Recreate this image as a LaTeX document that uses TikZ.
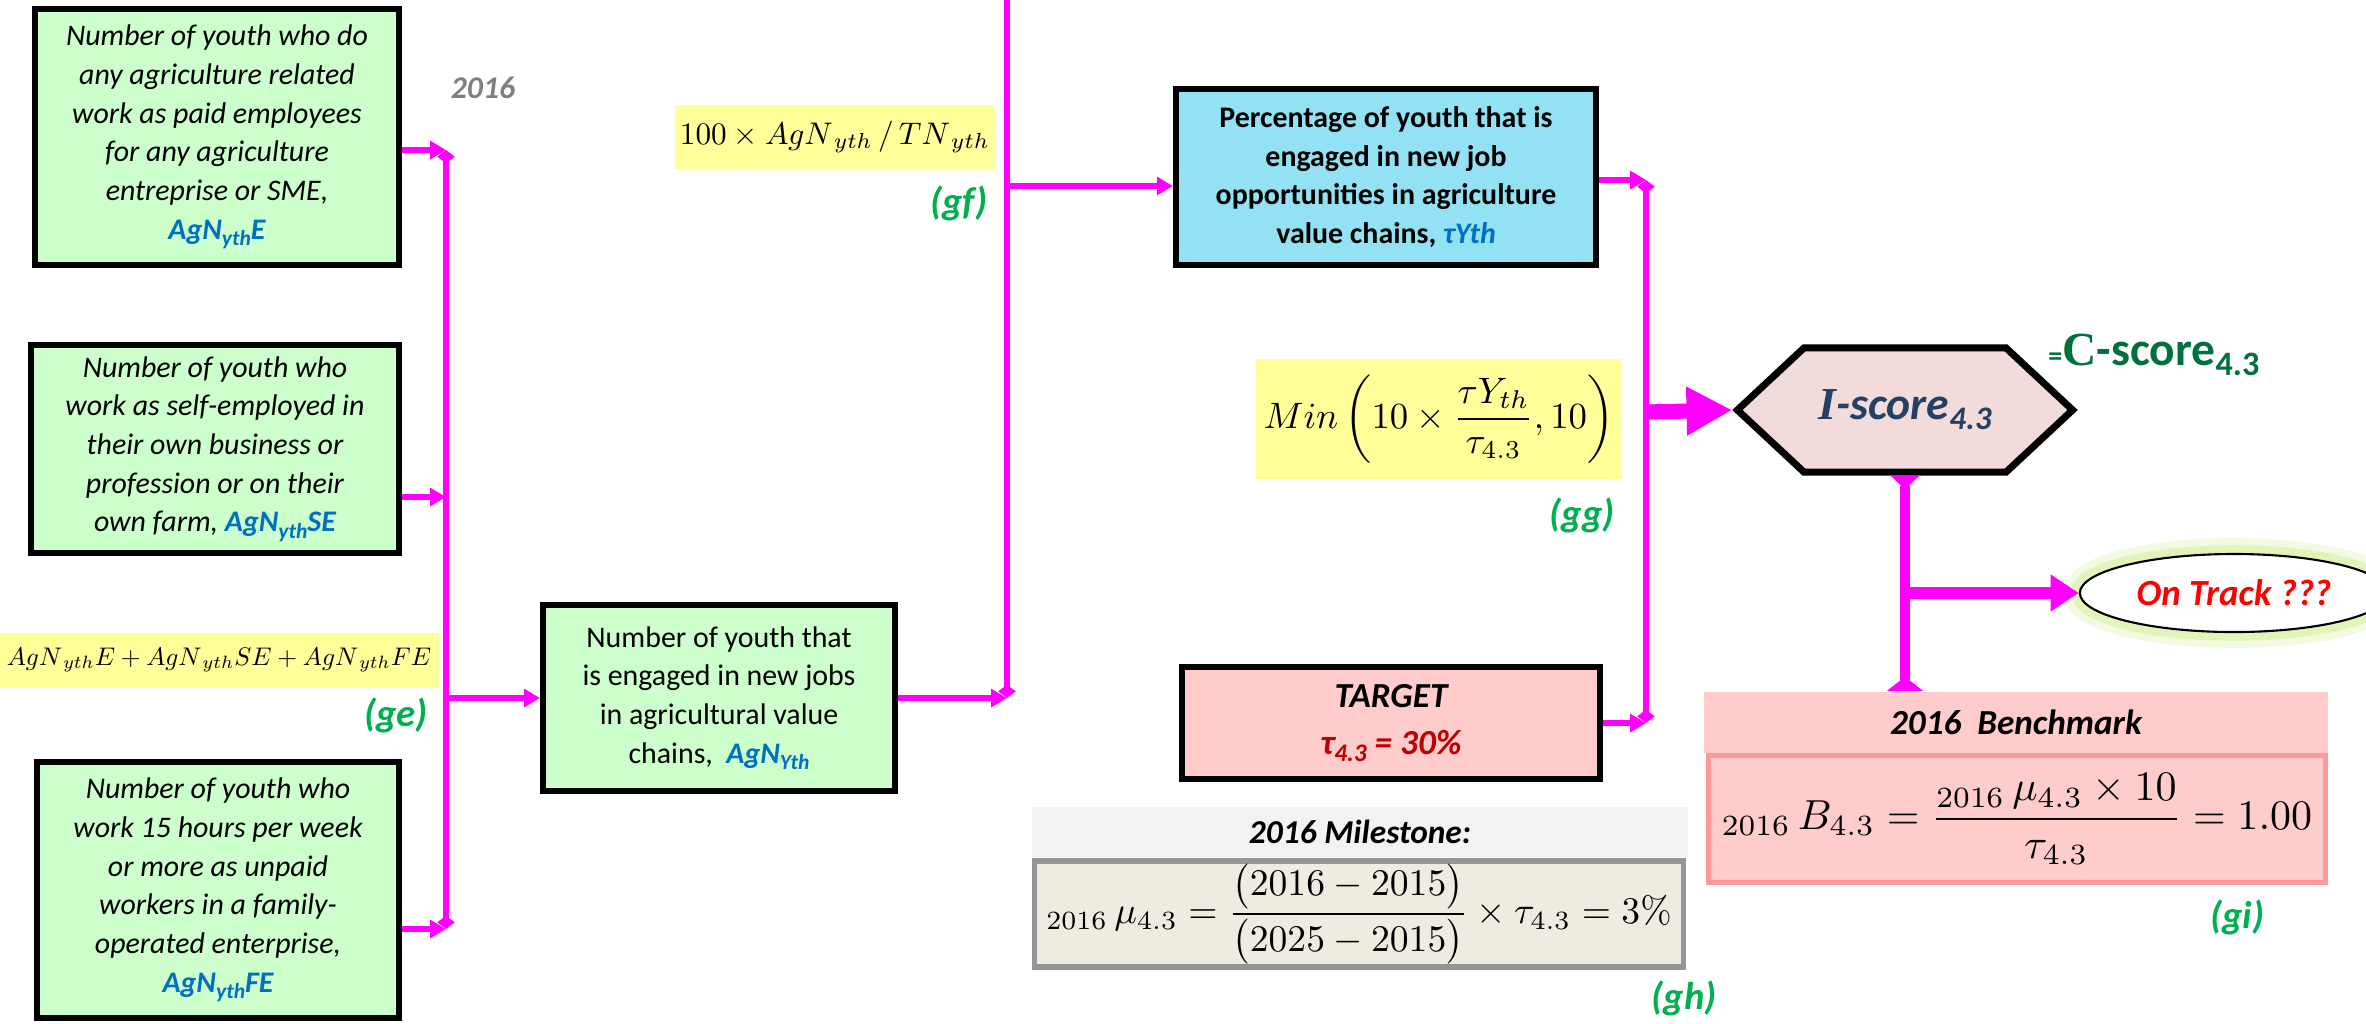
\documentclass[tikz,border=0pt]{standalone}
\usepackage{amsmath}
\usepackage{graphicx}
\usepackage[no-math]{fontspec}
\setmainfont{Carlito}
\newfontfamily\timesfont{Liberation Serif}
\usetikzlibrary{arrows.meta,shapes.geometric,shapes.symbols}

\definecolor{boxgreen}{RGB}{204,255,204}
\definecolor{boxcyan}{RGB}{146,226,243}
\definecolor{formyellow}{RGB}{255,255,153}
\definecolor{linkpink}{RGB}{255,0,255}
\definecolor{varblue}{RGB}{0,112,192}
\definecolor{taggreen}{RGB}{0,176,80}
\definecolor{hexfill}{RGB}{242,220,219}
\definecolor{hextext}{RGB}{36,64,98}
\definecolor{cgreen}{RGB}{0,112,60}
\definecolor{targetfill}{RGB}{255,204,204}
\definecolor{targetred}{RGB}{192,0,0}
\definecolor{benchline}{RGB}{255,153,153}
\definecolor{milehead}{RGB}{242,242,242}
\definecolor{milefill}{RGB}{238,236,225}
\definecolor{mileline}{RGB}{150,150,150}
\definecolor{glowgreen}{RGB}{215,240,160}

\newcommand{\lowidx}[1]{\raisebox{-0.45ex}{\scalebox{0.72}{#1}}}
\newcommand{\agvar}[1]{{\color{varblue}\bfseries\itshape AgN\lowidx{yth}#1}}

\tikzset{
  inbox/.style={draw=black, line width=1.7pt, fill=boxgreen, align=center,
    font=\fontsize{8.5}{11}\selectfont\itshape, inner sep=2pt},
  sumbox/.style={inbox, font=\fontsize{8.5}{11}\selectfont},
  pctbox/.style={inbox, fill=boxcyan, font=\fontsize{8.5}{11}\selectfont\bfseries},
  tgtbox/.style={inbox, fill=targetfill, font=\fontsize{10}{13.4}\selectfont\bfseries\itshape},
  formula/.style={fill=formyellow, inner sep=0pt},
  tag/.style={text=taggreen, font=\fontsize{11}{12}\selectfont\bfseries\itshape},
  year/.style={text=black!50, font=\fontsize{9}{10}\selectfont\bfseries\itshape},
  hexa/.style={shape=signal, signal to=west and east, signal pointer angle=86,
    draw=black, line width=2pt, fill=hexfill, minimum width=3.35cm, minimum height=1.24cm,
    text=hextext, font=\fontsize{13}{14}\selectfont\bfseries\itshape},
  cscore/.style={text=cgreen, font=\fontsize{13.5}{14}\selectfont\bfseries},
  ontrack/.style={ellipse, draw=black, line width=0.6pt, fill=white,
    minimum width=2.6cm, minimum height=0.78cm, text=red,
    font=\fontsize{10.5}{12}\selectfont\bfseries\itshape,
    preaction={draw=glowgreen, line width=9pt, opacity=0.3},
    preaction={draw=glowgreen, line width=5pt, opacity=0.6}},
  mshead/.style={fill=milehead, minimum width=6.56cm, minimum height=0.5cm,
    font=\fontsize{9.5}{11}\selectfont\bfseries\itshape},
  msbox/.style={draw=mileline, line width=1.5pt, fill=milefill, minimum width=6.49cm,
    minimum height=1.06cm, inner sep=0pt},
  bmhead/.style={fill=targetfill, minimum width=6.24cm, minimum height=0.61cm,
    font=\fontsize{10}{11}\selectfont\bfseries\itshape},
  bmbox/.style={draw=benchline, line width=1.5pt, fill=targetfill, minimum width=6.16cm,
    minimum height=1.27cm, inner sep=0pt},
  link/.style={draw=linkpink, line width=1.8pt},
  tip/.style={-{Triangle[length=4.5pt,width=5pt]}},
  bus/.style={link, {Diamond[length=3.8pt,width=5pt]}-{Diamond[length=3.8pt,width=5pt]}}
}

\begin{document}
\begin{tikzpicture}[x=0.01cm, y=-0.01cm]
\useasboundingbox (0,0) rectangle (2366,1023);

% counts of youth
\node[inbox, minimum width=3.63cm, minimum height=2.55cm] (E) at (217,137)
  {Number of youth who do\\any agriculture related\\work as paid employees\\for any agriculture\\entreprise or SME,\\\agvar{E}};
\node[inbox, minimum width=3.67cm, minimum height=2.07cm] (SE) at (215,449)
  {Number of youth who\\work as self-employed in\\their own business or\\profession or on their\\own farm, \agvar{SE}};
\node[inbox, minimum width=3.62cm, minimum height=2.56cm] (FE) at (218,890)
  {Number of youth who\\work 15 hours per week\\or more as unpaid\\workers in a family-\\operated enterprise,\\\agvar{FE}};
\node[year] (yr) at (483,88) {2016};

\node[formula, minimum width=4.39cm, minimum height=0.55cm] (fE) at (219,660)
  {\resizebox{4.24cm}{!}{$AgN_{\,yth}E+AgN_{\,yth}SE+AgN_{\,yth}FE$}};
\node[tag] (tE) at (396,715) {(ge)};

\node[sumbox, minimum width=3.52cm, minimum height=1.86cm] (Ag) at (719,698)
  {Number of youth that\\is engaged in new jobs\\in agricultural value\\chains,\ \ {\color{varblue}\bfseries\itshape AgN\lowidx{Yth}}};

\node[formula, minimum width=3.19cm, minimum height=0.63cm] (fF) at (835,137)
  {\resizebox{3.1cm}{!}{$100\times AgN_{\,yth}\,/\,TN_{\,yth}$}};
\node[tag] (tF) at (959,203) {(gf)};

\node[pctbox, minimum width=4.2cm, minimum height=1.75cm] (Pct) at (1386,177)
  {Percentage of youth that is\\engaged in new job\\opportunities in agriculture\\value chains, {\color{varblue}\itshape τYth}};
\node[tgtbox, minimum width=4.18cm, minimum height=1.12cm] (Tgt) at (1391,723)
  {TARGET\\{\color{targetred}τ\lowidx{4.3} = 30\%}};

\node[formula, minimum width=3.65cm, minimum height=1.2cm] (fG) at (1439,419)
  {\resizebox{3.5cm}{!}{$Min\left(10\times\dfrac{\tau Y_{th}}{\tau_{4.3}},10\right)$}};
\node[tag] (tG) at (1582,515) {(gg)};

% score and checks
\node[hexa] (hex) at (1905,410) {{\timesfont\itshape I}-score\lowidx{4.3}};
\node[cscore, anchor=west] (cs) at (2036,355) {{\footnotesize=}{\timesfont C}-score\lowidx{4.3}};
\node[ontrack] (track) at (2234,593) {On Track ???};

\node[mshead] (mshead) at (1360,832) {2016 Milestone:};
\node[msbox] (msbox) at (1359,914)
  {\resizebox{6.25cm}{!}{${}_{2016}\,\mu_{4.3}=\dfrac{\bigl(2016-2015\bigr)}{\bigl(2025-2015\bigr)}\times\tau_{4.3}=3\%$}};
\node[tag] (tH) at (1684,998) {(gh)};

\node[bmhead] (bmhead) at (2016,722) {2016\ \ Benchmark};
\node[bmbox] (bmbox) at (2017,819)
  {\resizebox{5.9cm}{!}{${}_{2016}\,B_{4.3}=\dfrac{{}_{2016}\,\mu_{4.3}\times10}{\tau_{4.3}}=1.00$}};
\node[tag] (tI) at (2237,917) {(gi)};

% junction points
\coordinate (jE) at (446,150);
\coordinate (jSE) at (446,497);
\coordinate (jAg) at (446,698);
\coordinate (jFE) at (446,929);
\coordinate (mTop) at (1007,0);
\coordinate (jPct) at (1007,186);
\coordinate (jMid) at (1007,698);
\coordinate (jR1) at (1646,180);
\coordinate (jR2) at (1646,412);
\coordinate (jR3) at (1646,723);
\coordinate (jTrack) at (1903,593);

\draw[bus] (jE) -- (jFE);
\draw[link, tip] (E.east |- jE) -- (jE);
\draw[link, tip] (SE.east |- jSE) -- (jSE);
\draw[link, tip] (FE.east |- jFE) -- (jFE);
\draw[link, tip] (jAg) -- (Ag.west);

\draw[link, -{Diamond[length=3.8pt,width=5pt]}] (mTop) -- (jMid);
\draw[link, tip] (Ag.east) -- (jMid);
\draw[link, tip] (jPct) -- (Pct.west |- jPct);

\draw[bus] (jR1) -- (jR3);
\draw[link, tip] (Pct.east |- jR1) -- (jR1);
\draw[link, tip] (Tgt.east) -- (jR3);
\draw[link, line width=4.3pt, -{Triangle[length=13pt,width=13pt]}] (jR2) -- (hex.west);

\draw[link, line width=2.8pt, {Triangle[reversed,length=4pt,width=8pt]}-{Triangle[reversed,length=4pt,width=10pt]}]
  (hex.south) -- (bmhead.north -| hex.south);
\draw[link, line width=3.4pt, -{Triangle[length=8pt,width=10pt]}] (jTrack) -- (track.west);
\end{tikzpicture}
\end{document}
